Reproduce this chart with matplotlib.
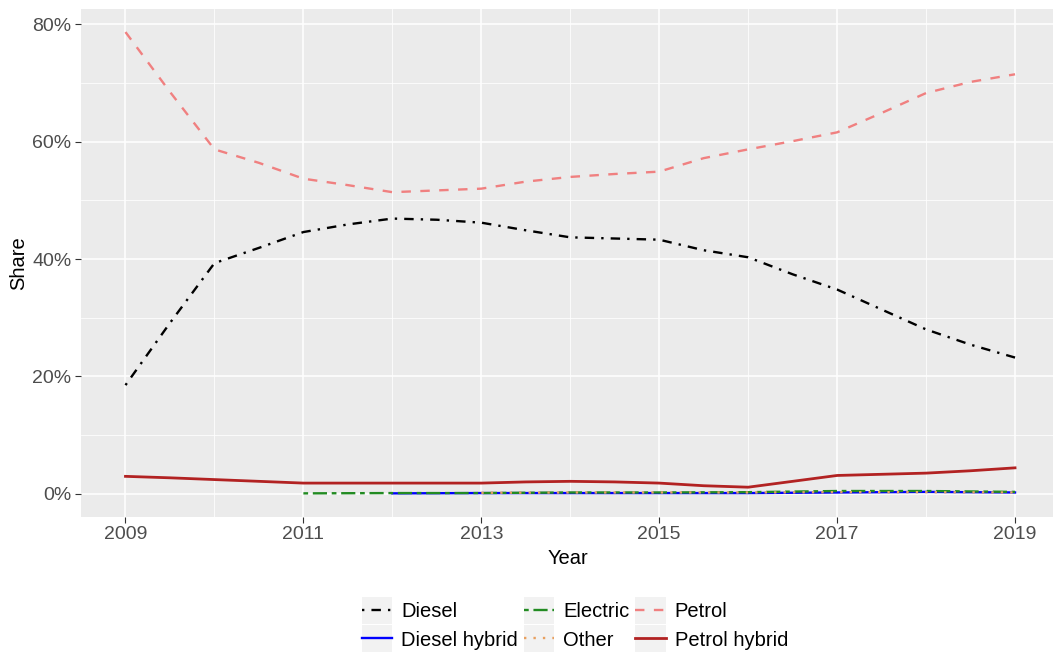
import numpy as np
import matplotlib
matplotlib.use("Agg")
import matplotlib.pyplot as plt
from matplotlib.ticker import FuncFormatter
from matplotlib.legend_handler import HandlerLine2D
from matplotlib.patches import Rectangle

plt.rcParams['font.family'] = ['Liberation Sans', 'DejaVu Sans']

# Half-year points for the main series
years_half = [2009, 2009.5, 2010, 2010.5, 2011, 2011.5, 2012, 2012.5, 2013, 2013.5,
              2014, 2014.5, 2015, 2015.5, 2016, 2016.5, 2017, 2017.5, 2018, 2018.5, 2019]
petrol = [78.7, 68.5, 58.7, 56.4, 53.7, 52.6, 51.4, 51.7, 52.0, 53.2,
          54.0, 54.5, 54.9, 57.2, 58.7, 60.1, 61.6, 64.9, 68.3, 70.2, 71.5]
diesel = [18.5, 29.1, 39.3, 41.9, 44.6, 45.9, 46.9, 46.7, 46.2, 44.9,
          43.7, 43.5, 43.3, 41.5, 40.3, 37.4, 34.8, 31.4, 28.0, 25.4, 23.2]
petrol_hybrid = [2.95, 2.7, 2.4, 2.1, 1.8, 1.8, 1.8, 1.8, 1.8, 2.0,
                 2.1, 2.0, 1.8, 1.35, 1.1, 2.1, 3.1, 3.3, 3.5, 3.9, 4.4]

# Yearly points for small series
years = [2009, 2010, 2011, 2012, 2013, 2014, 2015, 2016, 2017, 2018, 2019]
electric = [np.nan, np.nan, 0.05, 0.1, 0.1, 0.2, 0.2, 0.25, 0.45, 0.45, 0.3]
diesel_hybrid = [np.nan, np.nan, np.nan, 0.05, 0.1, 0.1, 0.1, 0.1, 0.2, 0.3, 0.2]
other = [np.nan, np.nan, np.nan, np.nan, 0.15, 0.2, 0.2, 0.2, 0.25, 0.25, 0.2]


class KeyHandler(HandlerLine2D):
    def create_artists(self, legend, orig_handle, xdescent, ydescent, width, height,
                       fontsize, trans):
        pad_y = 0.3 * fontsize
        rect = Rectangle((-xdescent, -ydescent - pad_y), width, height + 2 * pad_y,
                         facecolor='#F2F2F2', edgecolor='none', transform=trans)
        arts = super().create_artists(legend, orig_handle, xdescent, ydescent, width,
                                      height, fontsize, trans)
        return [rect] + list(arts)


fig = plt.figure(figsize=(10.53, 6.53), dpi=100)
W, H = 1053, 653
left, right, top, bottom = 81, 1059.5, 9, 516.7
ax = fig.add_axes([left / W, 1 - bottom / H, (right - left) / W, (bottom - top) / H])
ax.set_facecolor('#EBEBEB')
for s in ax.spines.values():
    s.set_visible(False)

lw = 1.7
ax.plot(years_half, diesel, color='black', lw=lw, dashes=(1, 3, 4, 3), label='Diesel')
ax.plot(years, diesel_hybrid, color='#0000FF', lw=lw, label='Diesel hybrid')
ax.plot(years, electric, color='#228B22', lw=lw, dashes=(2, 2, 6, 2), label='Electric')
ax.plot(years, other, color='#E8A060', lw=lw, dashes=(1, 3), label='Other')
ax.plot(years_half, petrol, color='#F08080', lw=lw, dashes=(4, 4), label='Petrol')
ax.plot(years_half, petrol_hybrid, color='#B22222', lw=2.0, label='Petrol hybrid')

ax.set_xlim(2008.5, 2019.5)
ax.set_ylim(-3.93, 82.63)
ax.set_xticks([2009, 2011, 2013, 2015, 2017, 2019])
ax.set_xticks([2010, 2012, 2014, 2016, 2018], minor=True)
ax.set_yticks([0, 20, 40, 60, 80])
ax.set_yticks([10, 30, 50, 70], minor=True)
ax.yaxis.set_major_formatter(FuncFormatter(lambda v, p: f"{v:.0f}%"))
ax.grid(which='major', color='white', lw=1.1)
ax.grid(which='minor', color='white', lw=0.55)
ax.set_axisbelow(True)
ax.tick_params(which='major', length=4, color='#333333', labelsize=14, labelcolor='#4D4D4D',
               width=0.8, pad=3)
ax.tick_params(which='minor', length=0)
ax.set_xlabel('Year', fontsize=14.5, color='black')
ax.set_ylabel('Share', fontsize=14.5, color='black', labelpad=3)
ax.xaxis.set_label_coords((568 - left) / (right - left), -(549 - bottom) / (bottom - top))

handles, labels = ax.get_legend_handles_labels()
leg = fig.legend(handles, labels, loc='center', bbox_to_anchor=(575 / W, 1 - 626 / H), ncol=3,
                 frameon=False, fontsize=14.5, handlelength=1.5, columnspacing=0.3,
                 handletextpad=0.45, labelspacing=0.45,
                 handler_map={h: KeyHandler() for h in handles})

fig.savefig('out.png', dpi=100)
